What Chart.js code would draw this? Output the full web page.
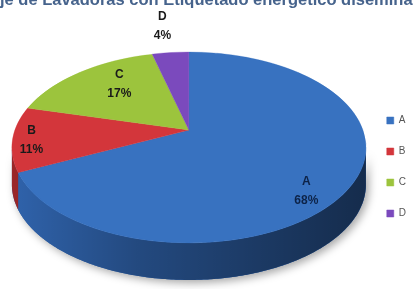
<!DOCTYPE html>
<html><head><meta charset="utf-8">
<script src="https://cdn.jsdelivr.net/npm/chart.js@4.4.1/dist/chart.umd.min.js"></script>
<style>html,body{margin:0;padding:0;background:#fff;overflow:hidden}</style>
</head><body>
<canvas id="c" width="413" height="289"></canvas>
<script>
const titleText = 'Porcentaje de Lavadoras con Etiquetado energético diseminado';
const titleHiddenPrefix = 'Porcenta';
const categories = ['A', 'B', 'C', 'D'];
const values = [68, 11, 17, 4];
const faceColors = ['#3872c0', '#d3363b', '#9cc43d', '#7b4abd'];
const wallColors = ['#2f62aa', '#9a2628', '#6e8f28', '#52307f'];

const pie3d = {
  id: 'pie3d',
  afterLayout(chart) {
    const tb = chart.titleBlock;
    if (!tb) return;
    const ctx = chart.ctx;
    ctx.save();
    ctx.font = Chart.helpers.toFont(tb.options.font).string;
    const full = ctx.measureText(titleText).width;
    const pre = ctx.measureText(titleHiddenPrefix).width;
    ctx.restore();
    tb.left = -pre - 2;
    tb.right = -pre + full + 2;
  },
  beforeDatasetDraw(chart, args, opts) {
    const meta = args.meta;
    const arcs = meta.data;
    if (!arcs.length) return;
    const ctx = chart.ctx;
    const ca = chart.chartArea;
    const {x: cx, y: cyA, outerRadius: R} = arcs[0];
    const beta = opts.beta, A = opts.kA * R, C = R, depth = opts.kDepth * R;
    const topH = A / (1 + beta), botH = A / (1 - beta);
    const H = topH + botH + depth;
    const cyC = Math.round((ca.top + ca.bottom) / 2 - H / 2 + topH);
    const proj = (tu, tv) => { const d = 1 - beta * tv; return [cx + C * tu / d, cyC + A * tv / d]; };
    chart.$pie3d = {proj};

    const th1 = Math.asin(beta), th2 = Math.PI - th1;
    const wallPath = (a1, a2) => {
      const n = Math.max(2, Math.ceil((a2 - a1) / 0.01));
      ctx.beginPath();
      for (let j = 0; j <= n; j++) {
        const a = a1 + (a2 - a1) * j / n;
        const [x, y] = proj(Math.cos(a), Math.sin(a));
        j ? ctx.lineTo(x, y) : ctx.moveTo(x, y);
      }
      for (let j = n; j >= 0; j--) {
        const a = a1 + (a2 - a1) * j / n;
        const [x, y] = proj(Math.cos(a), Math.sin(a));
        ctx.lineTo(x, y + depth);
      }
      ctx.closePath();
    };

    ctx.save();
    ctx.shadowColor = 'rgba(0,0,0,0.35)';
    ctx.shadowBlur = 8; ctx.shadowOffsetX = 3; ctx.shadowOffsetY = 3;
    wallPath(th1, th2);
    ctx.fillStyle = wallColors[0];
    ctx.fill();
    ctx.restore();

    const TAU = Math.PI * 2;
    arcs.forEach((arc, i) => {
      for (let k = -1; k <= 1; k++) {
        const a1 = Math.max(arc.startAngle + TAU * k, th1);
        const a2 = Math.min(arc.endAngle + TAU * k, th2);
        if (a2 <= a1) continue;
        ctx.save();
        wallPath(a1, a2);
        ctx.fillStyle = wallColors[i];
        ctx.fill();
        const g = ctx.createLinearGradient(cx - C, 0, cx + C, 0);
        g.addColorStop(0, 'rgba(0,0,0,0)');
        g.addColorStop(0.35, 'rgba(0,0,0,0.25)');
        g.addColorStop(1, 'rgba(0,0,0,0.55)');
        ctx.fillStyle = g;
        ctx.fill();
        ctx.restore();
      }
    });

    const y0 = Math.floor(cyC - topH) - 1, y1 = Math.ceil(cyC + botH) + 1;
    for (let yd = y0; yd < y1; yd++) {
      const ym = yd + 0.5;
      const d = (ym - cyC) / A;
      const tv = d / (1 + beta * d);
      const den = 1 - beta * tv;
      const s = C / (R * den);
      const dydv = A / (R * den * den);
      const vsrc = cyA + tv * R;
      ctx.save();
      ctx.beginPath();
      ctx.rect(-10, yd, chart.width + 20, 1);
      ctx.clip();
      ctx.translate(cx, ym);
      ctx.scale(s, dydv);
      ctx.translate(-cx, -vsrc);
      meta.controller.draw();
      ctx.restore();
    }
    return false;
  },
  afterDatasetsDraw(chart, args, opts) {
    const p = chart.$pie3d;
    if (!p) return;
    const ctx = chart.ctx;
    const meta = chart.getDatasetMeta(0);
    const data = chart.data.datasets[0].data;
    const total = data.reduce((a, b) => a + b, 0);
    ctx.save();
    ctx.font = opts.labelFont;
    ctx.textAlign = 'center';
    ctx.textBaseline = 'middle';
    meta.data.forEach((arc, i) => {
      const mid = (arc.startAngle + arc.endAngle) / 2;
      const [fu, fv] = opts.labelAnchors[i];
      const [x, y] = p.proj(fu * Math.cos(mid), fv * Math.sin(mid));
      ctx.fillStyle = opts.labelColors[i];
      ctx.fillText(chart.data.labels[i], x, y - opts.labelGap / 2);
      ctx.fillText(Math.round(data[i] / total * 100) + '%', x, y + opts.labelGap / 2);
    });
    ctx.restore();
  }
};

new Chart(document.getElementById('c'), {
  type: 'pie',
  data: {
    labels: categories,
    datasets: [{
      data: values,
      backgroundColor: faceColors,
      borderColor: faceColors,
      borderWidth: 0.5,
      radius: 174,
      clip: false,
      hoverOffset: 0
    }]
  },
  options: {
    responsive: false,
    animation: false,
    devicePixelRatio: 1,
    events: [],
    layout: { padding: { left: 12, right: -3, top: 0, bottom: 0 } },
    plugins: {
      title: {
        display: true,
        text: titleText,
        color: '#46638c',
        font: { family: "'Liberation Sans', Arial, sans-serif", size: 16.5, weight: 'bold' },
        padding: { top: -9.5, bottom: 32.5 }
      },
      legend: {
        position: 'right',
        align: 'center',
        title: { display: true, text: '', padding: { top: 16, bottom: 17 }, font: { size: 10 } },
        labels: {
          boxWidth: 7, boxHeight: 7, padding: 21, color: '#555',
          font: { family: "'Liberation Sans Narrow', 'Liberation Sans', Arial, sans-serif", size: 10 }
        }
      },
      tooltip: { enabled: false },
      pie3d: {
        beta: 0.183, kA: 0.53, kDepth: 0.213,
        labelFont: "bold 12px 'Liberation Sans', Arial, sans-serif",
        labelGap: 19,
        labelAnchors: [[0.713, 1.10], [0.891, 1.129], [0.622, 0.776], [1.531, 1.431]],
        labelColors: ['#0d2347', '#1a1a1a', '#1a1a1a', '#1a1a1a']
      }
    }
  },
  plugins: [pie3d]
});
</script>
</body></html>
